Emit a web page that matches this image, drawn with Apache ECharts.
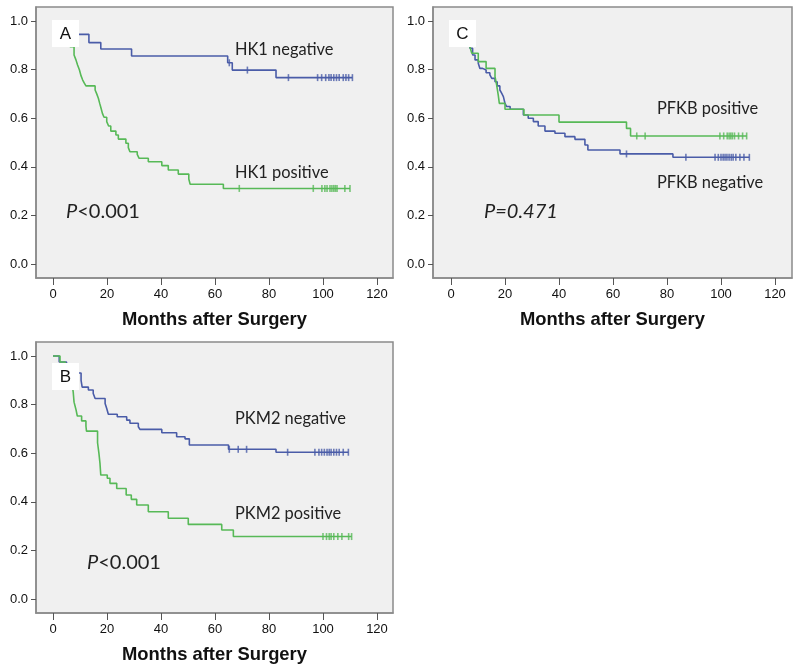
<!DOCTYPE html>
<html>
<head>
<meta charset="utf-8">
<script src="https://cdn.jsdelivr.net/npm/echarts@6/dist/echarts.min.js"></script>
<style>html,body{margin:0;padding:0;background:#fff;}#chart{width:800px;height:670px;}</style>
</head>
<body>
<div id="chart"></div>
<script>
// ---- Data ----
const monthTicks = [0, 20, 40, 60, 80, 100, 120];
const survTicks = [0, 0.2, 0.4, 0.6, 0.8, 1.0];
const xAxisTitle = 'Months after Surgery';

// Panel A: HK1
const hk1NegTimes = [0, 3, 6, 13.3, 17.7, 29.1, 64.7, 66.4, 82.6];
const hk1NegSurv  = [1, 0.972, 0.945, 0.911, 0.885, 0.856, 0.828, 0.798, 0.767];
const hk1NegCens  = [65.3, 72, 87.2, 98, 99.5, 101, 102.2, 103, 104, 105, 106, 107.5, 108.5, 109.5, 110.9];

const hk1PosTimes = [0, 2, 3, 4, 5, 6.3, 7.8, 8.5, 9.1, 9.8, 10.4, 11.0, 11.6, 12.2, 15.6, 16.2, 16.8, 17.3, 17.8, 18.3, 18.9, 19.9, 20.6, 21.4, 23.3, 24.2, 27.0, 27.9, 28.5, 31.2, 31.9, 35.3, 40.3, 42.7, 46.4, 50.3, 50.8, 63.1];
const hk1PosSurv  = [1, 0.98, 0.96, 0.94, 0.92, 0.894, 0.860, 0.840, 0.819, 0.798, 0.774, 0.757, 0.744, 0.733, 0.716, 0.700, 0.682, 0.661, 0.641, 0.620, 0.604, 0.586, 0.568, 0.547, 0.531, 0.514, 0.497, 0.479, 0.462, 0.451, 0.435, 0.421, 0.405, 0.387, 0.370, 0.350, 0.328, 0.311];
const hk1PosCens  = [69, 96.4, 99.6, 100.7, 101.5, 102.6, 103.3, 104, 104.6, 105.2, 108.1, 110];

// Panel C: PFKB
const pfkbPosTimes = [0, 2, 4, 6, 7, 7.7, 10.1, 13, 16.3, 16.9, 17.5, 17.9, 20, 27, 40, 65, 66.5];
const pfkbPosSurv  = [1, 0.97, 0.94, 0.91, 0.894, 0.867, 0.833, 0.805, 0.771, 0.737, 0.695, 0.661, 0.637, 0.613, 0.584, 0.558, 0.527];
const pfkbPosCens  = [68.8, 71.9, 99.6, 101, 102.3, 103, 103.6, 104.2, 105, 106.5, 108, 109.5];

const pfkbNegTimes = [0, 2, 4, 6, 7, 8, 8.9, 10.1, 10.7, 11.7, 13, 14.4, 15.1, 16.3, 17.1, 18.1, 18.8, 19.4, 20, 20.6, 21.9, 26.8, 28.6, 30.5, 32.3, 34.8, 38.5, 42.2, 45.9, 49.6, 50.7, 62.6, 82.2];
const pfkbNegSurv  = [1, 0.97, 0.94, 0.91, 0.888, 0.86, 0.84, 0.826, 0.805, 0.798, 0.787, 0.778, 0.764, 0.75, 0.733, 0.716, 0.702, 0.689, 0.661, 0.648, 0.637, 0.613, 0.6, 0.586, 0.568, 0.547, 0.538, 0.524, 0.513, 0.49, 0.469, 0.453, 0.439];
const pfkbNegCens  = [65, 87, 97.8, 99, 100, 100.8, 101.5, 102.2, 103, 103.8, 104.5, 105.5, 107, 108.5, 110.5];

// Panel B: PKM2
const pkm2NegTimes = [0, 2.3, 5, 8, 10.4, 10.8, 13.1, 14.9, 15.6, 19.3, 19.9, 20.5, 23.8, 27.3, 28.5, 31.6, 32.2, 40.3, 45.8, 48.9, 50.5, 65, 82.6];
const pkm2NegSurv  = [1, 0.975, 0.95, 0.93, 0.9, 0.872, 0.86, 0.846, 0.825, 0.805, 0.784, 0.76, 0.75, 0.736, 0.723, 0.709, 0.698, 0.684, 0.668, 0.659, 0.634, 0.616, 0.604];
const pkm2NegCens  = [65.3, 68.6, 71.7, 86.9, 97, 98.5, 99.5, 100.5, 101.5, 102.3, 103, 104, 105, 106, 107.5, 109.4];

const pkm2PosTimes = [0, 2.6, 4.5, 5.5, 6.5, 7.2, 7.5, 7.8, 8.5, 9, 10.6, 12.2, 12.4, 16.5, 17, 17.4, 17.7, 20.1, 21.1, 23.6, 27.1, 29, 31, 35.3, 42.7, 50.1, 62.5, 66.8];
const pkm2PosSurv  = [1, 0.975, 0.95, 0.925, 0.9, 0.875, 0.85, 0.81, 0.78, 0.753, 0.733, 0.712, 0.691, 0.643, 0.6, 0.558, 0.51, 0.497, 0.476, 0.455, 0.428, 0.41, 0.387, 0.359, 0.332, 0.307, 0.284, 0.257];
const pkm2PosCens  = [100, 101.3, 102.3, 103, 104, 105.5, 107, 109.5, 110.6];

// ---- Styling ----
const BLUE = '#4a5ca8';
const GREEN = '#57b957';
const FONT = '"Liberation Sans", Arial, sans-serif';
const NOTE_FONT = 'Lato, "Open Sans", sans-serif';

function survAt(T, S, t) {
  let v = S[0];
  for (let i = 0; i < T.length; i++) if (T[i] <= t) v = S[i];
  return v;
}
function stepData(T, S, C) {
  const d = T.map((t, i) => [t, S[i]]);
  const end = Math.max(...C);
  d.push([end, S[S.length - 1]]);
  return d;
}
function censData(T, S, C) {
  return C.map(t => [t, survAt(T, S, t)]);
}

const gridDefs = [
  {left: 36, top: 7, width: 357, height: 271, xmin: -6.296, xmax: 125.93},   // A
  {left: 433, top: 7, width: 359, height: 271, xmin: -6.667, xmax: 126.3},   // C
  {left: 36, top: 342, width: 357, height: 271, xmin: -6.296, xmax: 125.93}  // B
];

const grid = gridDefs.map(g => ({
  left: g.left, top: g.top, width: g.width, height: g.height,
  show: true, backgroundColor: '#f0f0f0', borderColor: '#8a8a8a', borderWidth: 1.5
}));

const xAxis = gridDefs.map((g, i) => ({
  type: 'value', gridIndex: i, min: g.xmin, max: g.xmax,
  name: xAxisTitle, nameLocation: 'middle', nameGap: 33,
  nameTextStyle: {fontFamily: FONT, fontWeight: 'bold', fontSize: 18.4, color: '#111'},
  axisLine: {show: true, onZero: false, lineStyle: {color: '#8a8a8a', width: 1.5}},
  axisTick: {show: true, length: 7, customValues: monthTicks, lineStyle: {color: '#555', width: 1}},
  axisLabel: {customValues: monthTicks, fontFamily: FONT, fontSize: 13, color: '#111', margin: 10},
  splitLine: {show: false}
}));

const yAxis = gridDefs.map((g, i) => ({
  type: 'value', gridIndex: i, min: -0.0576, max: 1.0576,
  axisLine: {show: true, onZero: false, lineStyle: {color: '#8a8a8a', width: 1.5}},
  axisTick: {show: true, length: 5, customValues: survTicks, lineStyle: {color: '#555', width: 1}},
  axisLabel: {customValues: survTicks, fontFamily: FONT, fontSize: 13, color: '#111', margin: 8,
              formatter: v => v.toFixed(1)},
  splitLine: {show: false}
}));

function kmSeries(idx, T, S, C, color, name) {
  return [
    {type: 'line', name: name, xAxisIndex: idx, yAxisIndex: idx, step: 'end',
     data: stepData(T, S, C), showSymbol: false, symbol: 'none',
     lineStyle: {color: color, width: 1.6}, itemStyle: {color: color}, animation: false, z: 3},
    {type: 'scatter', name: name + ' censored', xAxisIndex: idx, yAxisIndex: idx,
     data: censData(T, S, C), symbol: 'rect', symbolSize: [1.6, 7],
     itemStyle: {color: color}, animation: false, z: 4}
  ];
}

const series = [].concat(
  kmSeries(0, hk1NegTimes, hk1NegSurv, hk1NegCens, BLUE, 'HK1 negative'),
  kmSeries(0, hk1PosTimes, hk1PosSurv, hk1PosCens, GREEN, 'HK1 positive'),
  kmSeries(1, pfkbNegTimes, pfkbNegSurv, pfkbNegCens, BLUE, 'PFKB negative'),
  kmSeries(1, pfkbPosTimes, pfkbPosSurv, pfkbPosCens, GREEN, 'PFKB positive'),
  kmSeries(2, pkm2NegTimes, pkm2NegSurv, pkm2NegCens, BLUE, 'PKM2 negative'),
  kmSeries(2, pkm2PosTimes, pkm2PosSurv, pkm2PosCens, GREEN, 'PKM2 positive')
);

function letterBox(x, y, letter) {
  return [
    {type: 'rect', z: 100, shape: {x: x, y: y, width: 27, height: 27}, style: {fill: '#ffffff'}},
    {type: 'text', z: 101, style: {x: x + 13.5, y: y + 14, text: letter, fontFamily: FONT, fontSize: 17,
      fill: '#111', align: 'center', verticalAlign: 'middle'}}
  ];
}
function note(x, cy, text, size) {
  return {type: 'text', z: 100, style: {x: x, y: cy, text: text, fontFamily: NOTE_FONT,
    fontSize: size || 16.4, fill: '#222', verticalAlign: 'middle'}};
}
function pNote(x, cy, rest, allItalic) {
  return {type: 'text', z: 100, style: {x: x, y: cy, verticalAlign: 'middle',
    text: '{i|P}' + (allItalic ? '{i|' + rest + '}' : '{n|' + rest + '}'),
    rich: {
      i: {fontFamily: NOTE_FONT, fontSize: 20, fontStyle: 'italic', fill: '#222'},
      n: {fontFamily: NOTE_FONT, fontSize: 20, fill: '#222'}
    }}};
}

const graphic = [].concat(
  letterBox(52, 20, 'A'),
  letterBox(449, 20, 'C'),
  letterBox(52, 363, 'B'),
  [
    note(235, 50, 'HK1 negative'),
    note(235, 173, 'HK1 positive'),
    pNote(66, 212, '<0.001', false),
    note(657, 109, 'PFKB positive'),
    note(657, 183, 'PFKB negative'),
    pNote(484, 212, '=0.471', true),
    note(235, 419, 'PKM2 negative'),
    note(235, 514, 'PKM2 positive'),
    pNote(87, 563, '<0.001', false)
  ]
);

const chart = echarts.init(document.getElementById('chart'), null, {renderer: 'canvas'});
chart.setOption({
  animation: false,
  backgroundColor: '#ffffff',
  grid: grid, xAxis: xAxis, yAxis: yAxis, series: series,
  graphic: {elements: graphic}
});
</script>
</body>
</html>
